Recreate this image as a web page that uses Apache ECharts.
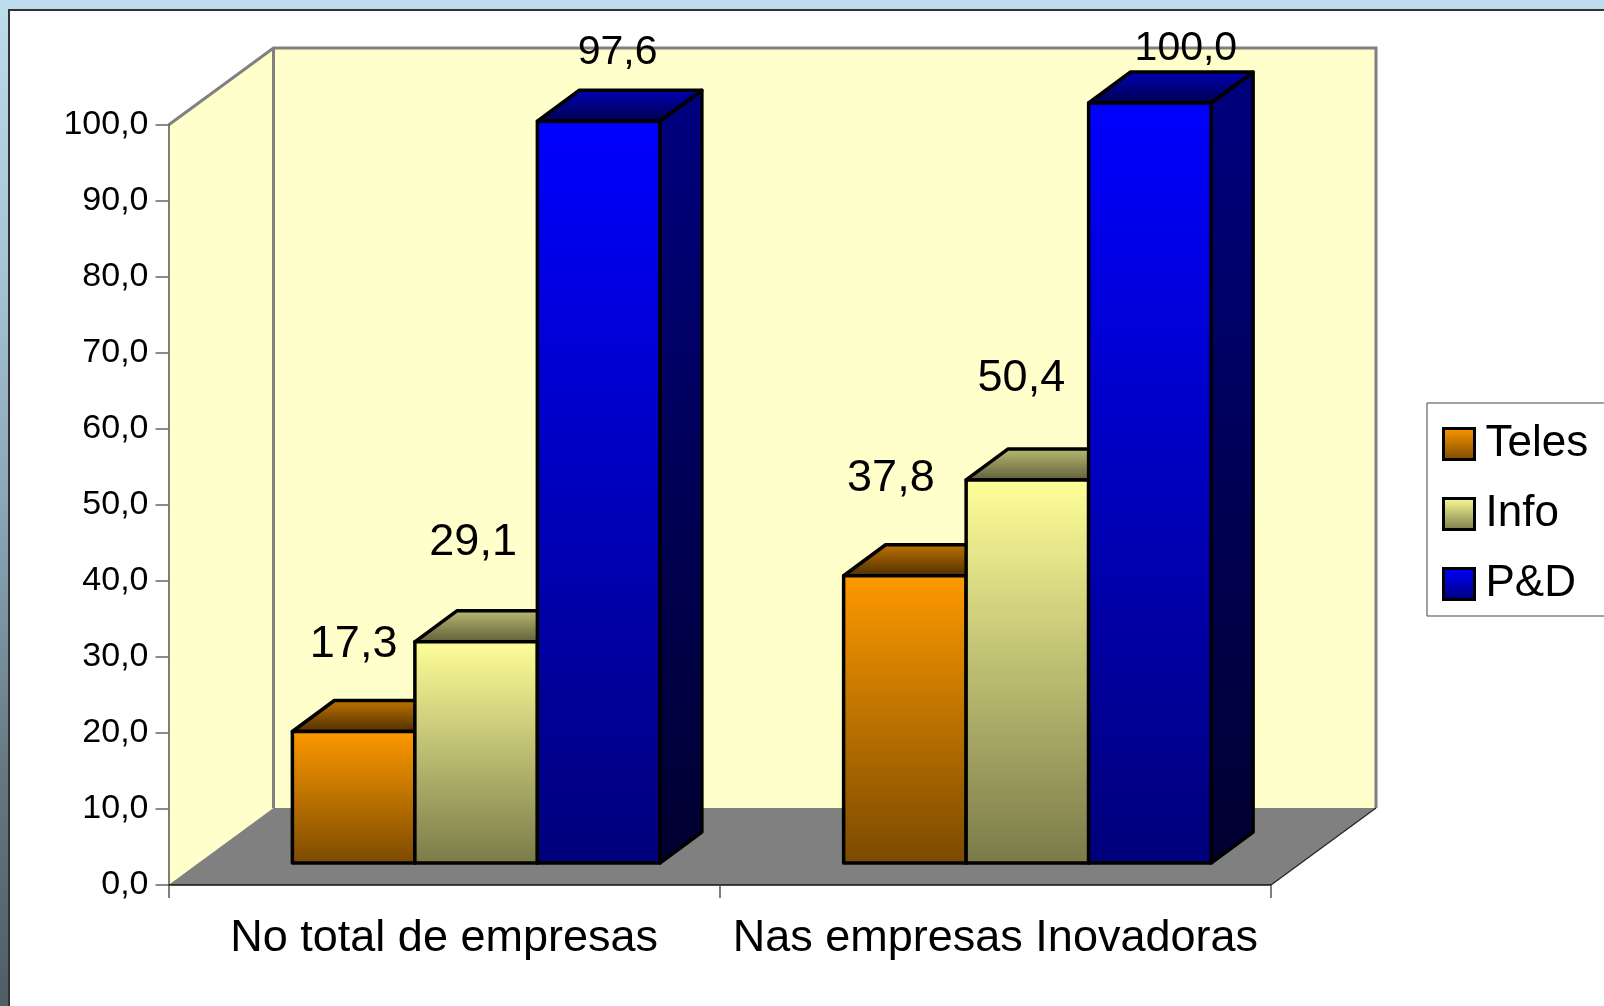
<!DOCTYPE html>
<html>
<head>
<meta charset="utf-8">
<title>Teles, Info, P&amp;D</title>
<script src="https://cdn.jsdelivr.net/npm/echarts@6/dist/echarts.min.js"></script>
<style>
    html, body { margin: 0; padding: 0; width: 1604px; height: 1006px; overflow: hidden; }
    body { background: linear-gradient(to bottom, #bddcee 0%, #a9c6d9 25%, #84a0b0 55%, #64767f 78%, #4f5e66 100%); }
    #target { position: absolute; left: 8px; top: 9px; width: 1596px; height: 997px; box-sizing: border-box;
        border-left: 2px solid #333; border-top: 2px solid #333; background: #fff; }
</style>
</head>
<body>
<div id="target"></div>
<script>
    const categories = ['No total de empresas', 'Nas empresas Inovadoras']
    const seriesNames = ['Teles', 'Info', 'P&D']
    const teles = [17.3, 37.8]
    const info = [29.1, 50.4]
    const ped = [97.6, 100.0]

    const font = '"Liberation Sans", Arial, sans-serif'
    // o div começa em (10,11), por causa da borda
    const ox = 10, oy = 11

    // profundidade das paredes e das barras, em px
    const wallDx = 105, wallDy = -77
    const barDx = 42, barDy = -31
    const barShiftX = 32, barShiftY = -22
    const barWidth = 122.5

    // deslocamento do rótulo em relação ao centro do topo da barra
    const labelOffset = [
        [[0, -87], [-3, -99], [19, -69]],
        [[-14, -97], [-6, -101], [36, -54]]
    ]
    const labelSize = [
        [45, 45, 41],
        [45, 45, 41]
    ]

    const grad = (top, bottom) => ({
        type: 'linear', x: 0, y: 0, x2: 0, y2: 1,
        colorStops: [{offset: 0, color: top}, {offset: 1, color: bottom}]
    })
    const barColors = [
        {front: grad('#ff9900', '#7a4a00'), top: grad('#c47500', '#4a2d00'), side: grad('#7a4a00', '#331f00')},
        {front: grad('#ffff99', '#7a7a4a'), top: grad('#bdbd75', '#5c5c38'), side: grad('#7a7a4a', '#333320')},
        {front: grad('#0000ff', '#00007a'), top: grad('#0000b8', '#00004a'), side: grad('#000080', '#000030')}
    ]

    const poly = (points, fill, z2) => ({
        type: 'polygon',
        z2: z2,
        shape: {points: points},
        style: {fill: fill, stroke: '#000', lineWidth: 3.5, lineJoin: 'round'}
    })

    function renderBar(serieIdx, params, api) {
        const cat = api.value(0)
        const val = api.value(1)
        const base = api.coord([cat, 0])
        const topPt = api.coord([cat, val])
        const x0 = base[0] + barShiftX + (serieIdx - 1.5) * barWidth
        const x1 = x0 + barWidth
        const y0 = base[1] + barShiftY
        const y1 = topPt[1] + barShiftY
        const c = barColors[serieIdx]
        const off = labelOffset[params.dataIndex][serieIdx]
        return {
            type: 'group',
            children: [
                poly([[x1, y0], [x1 + barDx, y0 + barDy], [x1 + barDx, y1 + barDy], [x1, y1]], c.side, 1),
                poly([[x0, y1], [x0 + barDx, y1 + barDy], [x1 + barDx, y1 + barDy], [x1, y1]], c.top, 1),
                poly([[x0, y0], [x1, y0], [x1, y1], [x0, y1]], c.front, 2),
                {
                    type: 'text',
                    z2: 10,
                    style: {
                        x: (x0 + x1) / 2 + off[0],
                        y: y1 + off[1],
                        text: val.toFixed(1).replace('.', ','),
                        font: labelSize[params.dataIndex][serieIdx] + 'px ' + font,
                        fill: '#000',
                        align: 'center',
                        verticalAlign: 'middle'
                    }
                }
            ]
        }
    }

    function renderWalls(params) {
        const g = params.coordSys
        const l = g.x, r = g.x + g.width, t = g.y, b = g.y + g.height
        const grey = '#808080'
        const line = (pts, color, w) => ({
            type: 'polyline', z2: 5, shape: {points: pts},
            style: {fill: null, stroke: color, lineWidth: w}
        })
        return {
            type: 'group',
            children: [
                {type: 'polygon', shape: {points: [[l + wallDx, t + wallDy], [r + wallDx, t + wallDy], [r + wallDx, b + wallDy], [l + wallDx, b + wallDy]]}, style: {fill: '#ffffcc'}},
                {type: 'polygon', shape: {points: [[l, t], [l + wallDx, t + wallDy], [l + wallDx, b + wallDy], [l, b]]}, style: {fill: '#ffffcc'}},
                {type: 'polygon', z2: 2, shape: {points: [[l, b], [l + wallDx, b + wallDy], [r + wallDx, b + wallDy], [r, b]]}, style: {fill: grey}},
                line([[l, t], [l + wallDx, t + wallDy], [r + wallDx, t + wallDy], [r + wallDx, b + wallDy]], grey, 3),
                line([[l + wallDx, t + wallDy], [l + wallDx, b + wallDy]], grey, 3),
                line([[r, b], [r + wallDx, b + wallDy]], '#222', 1.2)
            ]
        }
    }

    const target = document.getElementById('target')
    const mChart = echarts.init(target, null, {renderer: 'canvas'})

    const barSeries = [teles, info, ped].map((values, idx) => ({
        name: seriesNames[idx],
        type: 'custom',
        coordinateSystem: 'cartesian2d',
        z: 4,
        silent: true,
        itemStyle: {color: barColors[idx].front},
        renderItem: (params, api) => renderBar(idx, params, api),
        encode: {x: 0, y: 1},
        data: values.map((v, i) => [i, v])
    }))

    const option = {
        animation: false,
        backgroundColor: '#fff',
        textStyle: {fontFamily: font, color: '#000'},
        grid: {
            left: 168.5 - ox,
            top: 125 - oy,
            width: 1102.5,
            height: 760,
            containLabel: false
        },
        legend: {
            orient: 'vertical',
            left: 1427 - ox,
            top: 403 - oy,
            padding: [19, 40, 10, 15],
            itemWidth: 31,
            itemHeight: 31,
            itemGap: 26,
            borderColor: '#444',
            borderWidth: 1,
            backgroundColor: '#fff',
            textStyle: {fontSize: 44, fontFamily: font, color: '#000', padding: [0, 0, 0, 6]},
            data: seriesNames.map((name, i) => ({
                name: name,
                icon: 'rect',
                itemStyle: {color: barColors[i].front, borderColor: '#000', borderWidth: 3}
            }))
        },
        // x 轴
        xAxis: {
            type: 'category',
            z: 3,
            data: categories,
            axisLine: {show: true, lineStyle: {color: '#111', width: 1.5}},
            axisTick: {show: true, length: 13, lineStyle: {color: '#555', width: 1.5}},
            axisLabel: {show: true, interval: 0, margin: 31, fontSize: 45, fontFamily: font, color: '#000'},
            splitLine: {show: false}
        },
        // y 轴
        yAxis: {
            type: 'value',
            z: 3,
            min: 0,
            max: 100,
            interval: 10,
            axisLine: {show: true, lineStyle: {color: '#555', width: 1.5}},
            axisTick: {show: true, length: 13, lineStyle: {color: '#666', width: 1.5}},
            axisLabel: {
                show: true,
                margin: 20,
                fontSize: 34,
                fontFamily: font,
                color: '#000',
                padding: [6, 0, 0, 0],
                formatter: v => v.toFixed(1).replace('.', ',')
            },
            splitLine: {show: false}
        },
        series: [{
            name: 'paredes',
            type: 'custom',
            coordinateSystem: 'cartesian2d',
            z: 1,
            silent: true,
            renderItem: renderWalls,
            data: [[0, 0]]
        }].concat(barSeries)
    }
    mChart.setOption(option)
    window.addEventListener('resize', function() {
        mChart.resize()
    })
</script>
</body>
</html>
